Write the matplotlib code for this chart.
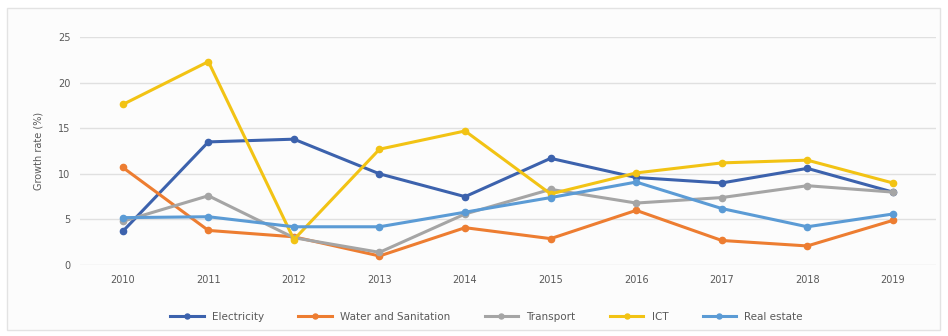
import matplotlib
matplotlib.use("Agg")
import matplotlib.pyplot as plt
from matplotlib.patches import Rectangle

# values
years = ["2010", "2011", "2012", "2013", "2014", "2015", "2016", "2017", "2018", "2019"]
electricity = [3.7, 13.5, 13.8, 10.0, 7.5, 11.7, 9.6, 9.0, 10.6, 8.0]
water = [10.7, 3.8, 3.1, 1.0, 4.1, 2.9, 6.0, 2.7, 2.1, 4.9]
transport = [4.8, 7.6, 3.0, 1.4, 5.6, 8.3, 6.8, 7.4, 8.7, 8.0]
ict = [17.6, 22.3, 2.8, 12.7, 14.7, 7.8, 10.1, 11.2, 11.5, 9.0]
real_estate = [5.2, 5.3, 4.2, 4.2, 5.8, 7.4, 9.1, 6.2, 4.2, 5.6]

series = [
    ("Electricity", electricity, "#3C62AD"),
    ("Water and Sanitation", water, "#ED7D31"),
    ("Transport", transport, "#A5A5A5"),
    ("ICT", ict, "#F2C314"),
    ("Real estate", real_estate, "#5B9BD5"),
]

fig = plt.figure(figsize=(9.48, 3.36), dpi=100)
fig.patch.set_facecolor("white")
# light outer frame like the excel chart area (behind the axes)
fig.add_artist(Rectangle((7 / 948, 6 / 336), 933 / 948, 322 / 336, transform=fig.transFigure,
                         fill=True, facecolor="#FCFCFC", edgecolor="#E3E3E3", lw=1,
                         zorder=-5))

ax = fig.add_axes([0.0844, 0.211, 0.9026, 0.679])
ax.set_zorder(2)
ax.set_facecolor("none")
x = list(range(len(years)))
for name, vals, col in series:
    ax.plot(x, vals, color=col, lw=2.2, marker="o", ms=4.5, label=name,
            solid_joinstyle="round")

ax.set_xlim(-0.5, len(years) - 0.5)
ax.set_ylim(0, 25)
ax.set_yticks([0, 5, 10, 15, 20, 25])
ax.set_xticks(x)
ax.set_xticklabels(years)
ax.tick_params(length=0, labelsize=7, colors="#595959", pad=7)
ax.grid(axis="y", color="#E0E0E0", lw=1)
ax.set_axisbelow(True)
for s in ax.spines.values():
    s.set_visible(False)
ax.set_ylabel("Growth rate (%)", fontsize=7, color="#595959", labelpad=10)

ax.legend(loc="upper center", bbox_to_anchor=(0.475, -0.165), ncol=5, frameon=False,
          fontsize=7.5, labelcolor="#595959", handlelength=3.2, columnspacing=3.3,
          markerscale=0.8)

fig.savefig("out.png", dpi=100)
